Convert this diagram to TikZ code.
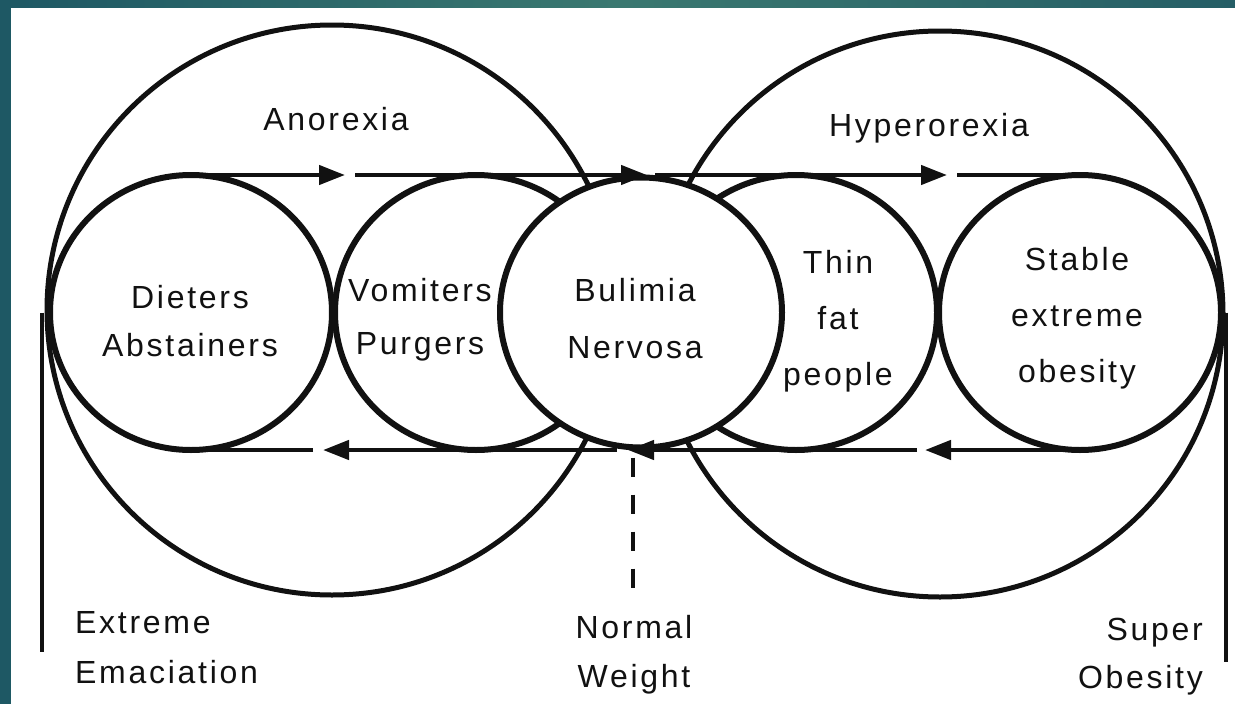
\documentclass[tikz,border=0pt]{standalone}
\usepackage{fontspec}
\setmainfont[LetterSpace=8.5]{Liberation Sans}
\usetikzlibrary{arrows.meta,shapes.geometric}
\definecolor{tealL}{HTML}{1E5864}
\definecolor{tealM}{HTML}{3A7870}
\definecolor{tealR}{HTML}{255E66}
\definecolor{ink}{HTML}{111111}
\begin{document}
\begin{tikzpicture}[x=1pt,y=-1pt,
  bigring/.style={circle,draw=ink,line width=5pt,inner sep=0pt,outer sep=0pt},
  ring/.style={ellipse,draw=ink,line width=6pt,inner sep=0pt,outer sep=0pt,minimum width=282pt,minimum height=275pt},
  flow/.style={draw=ink,line width=4.5pt,-{Triangle[length=26pt,width=19pt]}},
  plain/.style={draw=ink,line width=4.5pt},
  rule/.style={draw=ink,line width=4pt},
  dashline/.style={draw=ink,line width=4.5pt,dash pattern=on 19pt off 18pt},
  lbl/.style={text=ink,inner sep=0pt,align=center}
]
\useasboundingbox (0,0) rectangle (1235,704);
\shade[left color=tealL,right color=tealR,middle color=tealM] (0,0) rectangle (1235,704);
\fill[white] (11,8) rectangle (1235,704);

% large circles
\node[bigring,minimum size=570pt] (anorexia) at (332,310) {};
\node[bigring,minimum size=566pt] (hyper) at (940,314) {};

% small circles
\node[ring] (dieters) at (191,312.5) {};
\node[ring] (vomiters) at (476,312.5) {};
\node[ring] (thin) at (796,312.5) {};
\node[ring] (stable) at (1080,312.5) {};
\node[ring,fill=white,minimum height=270pt] (bulimia) at (641,312.5) {};

% coordinates for flow lines
\coordinate (t1) at (345,175);
\coordinate (t1s) at (355,175);
\coordinate (t2) at (647,175);
\coordinate (t2s) at (655,175);
\coordinate (t3) at (947,175);
\coordinate (t3s) at (957,175);
\coordinate (b1) at (925,450);
\coordinate (b1s) at (917,450);
\coordinate (b2) at (628,450);
\coordinate (b2s) at (617,450);
\coordinate (b3) at (323,450);
\coordinate (b3s) at (313,450);

% top flow (rightwards)
\draw[flow] (dieters.north) -- (t1);
\draw[flow] (t1s) -- (t2);
\draw[flow] (t2s) -- (t3);
\draw[plain] (t3s) -- (stable.north);
% bottom flow (leftwards)
\draw[flow] (stable.south) -- (b1);
\draw[flow] (b1s) -- (b2);
\draw[flow] (b2s) -- (b3);
\draw[plain] (b3s) -- (dieters.south);

% vertical rules
\coordinate (leftfoot) at (42,652);
\coordinate (rightfoot) at (1226,662);
\coordinate (nwfoot) at (633,588);
\draw[rule] (dieters.west -| leftfoot) -- (leftfoot);
\draw[rule] (stable.east -| rightfoot) -- (rightfoot);
\draw[dashline] ([yshift=-10pt]bulimia.south -| nwfoot) -- (nwfoot);

% labels
\node[lbl,font=\fontsize{32}{40}\selectfont] (anorexiaLbl) at (336,119) {Anorexia};
\node[lbl,font=\fontsize{32}{40}\selectfont] (hyperLbl) at (929,128) {Hyperorexia};
\node[lbl,font=\fontsize{32}{47.5}\selectfont] (dietersLbl) at (190,321) {Dieters\\Abstainers};
\node[lbl,font=\fontsize{32}{53}\selectfont] (vomitersLbl) at (420,320) {Vomiters\\Purgers};
\node[lbl,font=\fontsize{32}{57}\selectfont] (bulimiaLbl) at (635,319) {Bulimia\\Nervosa};
\node[lbl,font=\fontsize{32}{56}\selectfont] (thinLbl) at (838,321) {Thin\\fat\\people};
\node[lbl,font=\fontsize{32}{56}\selectfont] (stableLbl) at (1077,318) {Stable\\extreme\\obesity};
\node[lbl,align=left,anchor=west,font=\fontsize{32}{50}\selectfont] (extremeLbl) at (75,648) {Extreme\\Emaciation};
\node[lbl,font=\fontsize{32}{49}\selectfont] (normalLbl) at (634,655) {Normal\\Weight};
\node[lbl,align=right,anchor=east,font=\fontsize{32}{48}\selectfont] (superLbl) at (1203,657) {Super\\Obesity};
\end{tikzpicture}
\end{document}
